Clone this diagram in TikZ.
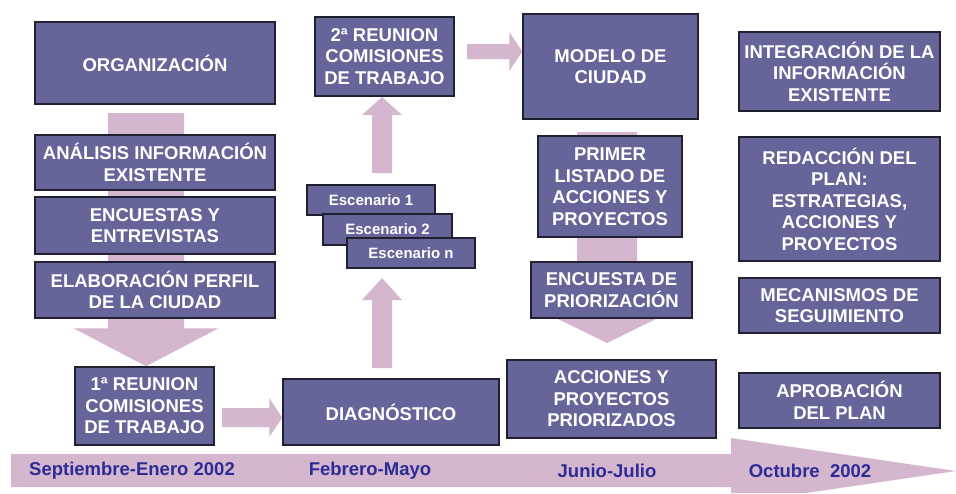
\documentclass[tikz,border=0pt]{standalone}
\usepackage{fontspec}
\setmainfont{Liberation Sans}
\usetikzlibrary{calc,backgrounds}
\definecolor{boxfill}{RGB}{102,101,153}
\definecolor{boxline}{RGB}{32,32,48}
\definecolor{arrowfill}{RGB}{212,182,206}
\definecolor{monthblue}{RGB}{44,44,150}
\tikzset{every picture/.style={line width=0.75pt}}
\tikzset{
  stage/.style={draw=boxline, line width=1.5pt, fill=boxfill, text=white, align=center, inner sep=0pt,
    font=\bfseries\fontsize{18.5}{21.5}\selectfont},
  scenbox/.style={stage, font=\bfseries\fontsize{15}{18}\selectfont},
  month/.style={text=monthblue, inner sep=0pt, font=\bfseries\fontsize{18.5}{21}\selectfont}
}
% start, end, shaft half width, head half width, head length
\newcommand{\fatarrow}[5]{%
  \coordinate (hb) at ($(#2)!#5!(#1)$);
  \fill[arrowfill] ($(#1)!#3!90:(#2)$) -- ($(hb)!#3!-90:(#1)$) -- ($(hb)!#4!-90:(#1)$) -- (#2)
    -- ($(hb)!#4!90:(#1)$) -- ($(hb)!#3!90:(#1)$) -- ($(#1)!#3!-90:(#2)$) -- cycle;
}

\begin{document}
\begin{tikzpicture}[x=1pt,y=1pt,yscale=-1]
\useasboundingbox (0,0) rectangle (956,493);

%Column 1
\node[stage, minimum width=240, minimum height=82] (org) at (155,63) {ORGANIZACIÓN};
\node[stage, minimum width=240, minimum height=55] (ana) at (155,162.5) {ANÁLISIS INFORMACIÓN\\EXISTENTE};
\node[stage, minimum width=240, minimum height=57] (enc) at (155,225.5) {ENCUESTAS Y\\ENTREVISTAS};
\node[stage, minimum width=240, minimum height=56] (ela) at (155,290) {ELABORACIÓN PERFIL\\DE LA CIUDAD};
\node[stage, minimum width=139, minimum height=78] (reu1) at (144.5,406) {1ª REUNION\\COMISIONES\\DE TRABAJO};

%Column 2
\node[stage, minimum width=216, minimum height=66] (diag) at (391,412) {DIAGNÓSTICO};
\node[scenbox, minimum width=128, minimum height=30] (esc1) at (371,200) {Escenario 1};
\node[scenbox, minimum width=129, minimum height=31] (esc2) at (387.5,229.5) {Escenario 2};
\node[scenbox, minimum width=128, minimum height=30] (escn) at (411,253) {Escenario n};
\node[stage, minimum width=139, minimum height=79] (reu2) at (384.5,56.5) {2ª REUNION\\COMISIONES\\DE TRABAJO};

%Column 3
\node[stage, minimum width=175, minimum height=105] (mod) at (610.5,66.5) {MODELO DE\\CIUDAD};
\node[stage, minimum width=144, minimum height=101] (pri) at (610,186.5) {PRIMER\\LISTADO DE\\ACCIONES Y\\PROYECTOS};
\node[stage, minimum width=161, minimum height=56] (encp) at (611.5,290) {ENCUESTA DE\\PRIORIZACIÓN};
\node[stage, minimum width=209, minimum height=78] (acc) at (611.5,399) {ACCIONES Y\\PROYECTOS\\PRIORIZADOS};

%Column 4
\node[stage, minimum width=201, minimum height=79] (int) at (839.5,71.5) {INTEGRACIÓN DE LA\\INFORMACIÓN\\EXISTENTE};
\node[stage, minimum width=201, minimum height=124] (red) at (839.5,199) {REDACCIÓN DEL\\PLAN:\\ESTRATEGIAS,\\ACCIONES Y\\PROYECTOS};
\node[stage, minimum width=201, minimum height=55] (mec) at (839.5,305.5) {MECANISMOS DE\\SEGUIMIENTO};
\node[stage, minimum width=201, minimum height=55] (apr) at (839.5,400.5) {APROBACIÓN\\DEL PLAN};

%Block arrows
\coordinate (ldS) at (146,113);
\coordinate (ldE) at (ldS |- reu1.north);
\coordinate (rdS) at (222,417.5);
\coordinate (rdE) at (diag.west |- rdS);
\coordinate (up1S) at (382,368);
\coordinate (up1E) at (382,278);
\coordinate (up2S) at (382,173);
\coordinate (up2E) at (382,97);
\coordinate (rtS) at (467,51.5);
\coordinate (rtE) at (mod.west |- rtS);
\coordinate (mdS) at (607,132);
\coordinate (mdE) at (607,343);
\begin{scope}[on background layer]
\fatarrow{ldS}{ldE}{38pt}{72.5pt}{38pt}
\fatarrow{rdS}{rdE}{9.5pt}{19.5pt}{13pt}
\fatarrow{up1S}{up1E}{10pt}{20pt}{22pt}
\fatarrow{up2S}{up2E}{10pt}{20pt}{18pt}
\fatarrow{rtS}{rtE}{7.5pt}{19.5pt}{13pt}
\fatarrow{mdS}{mdE}{30pt}{51pt}{25pt}
%Shape: Timeline
\fill[arrowfill] (11,454) -- (731,454) -- (731,438) -- (956,471) -- (806,493) -- (731,493) -- (731,487) -- (11,487) -- cycle;
\end{scope}

%Months
\node[month] (m1) at (132,471) {Septiembre-Enero 2002};
\node[month] (m2) at (370,471) {Febrero-Mayo};
\node[month] (m3) at (607,471) {Junio-Julio};
\node[month] (m4) at (810,471) {Octubre~~2002};
\end{tikzpicture}
\end{document}
